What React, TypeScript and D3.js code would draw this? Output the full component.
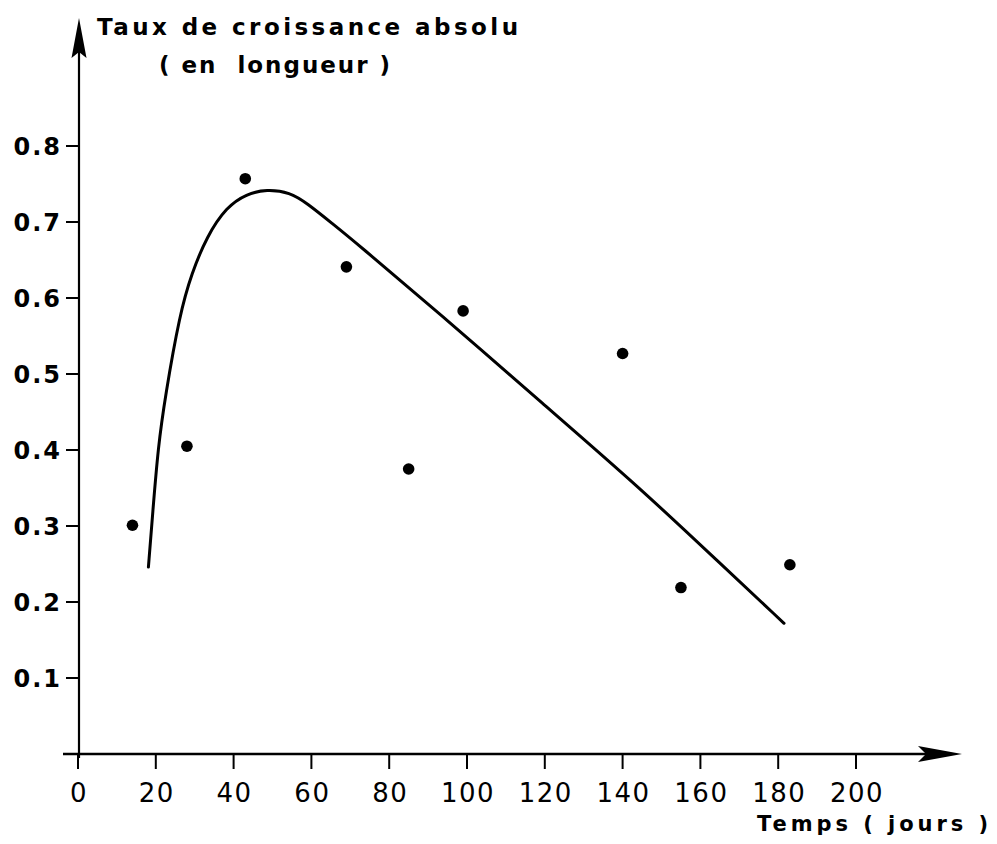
import React from "react";
import * as d3 from "d3";

// Observed points (days, absolute growth rate)
const pointDays = [14, 28, 43, 69, 85, 99, 140, 155, 183];
const pointRates = [0.301, 0.405, 0.757, 0.641, 0.375, 0.583, 0.527, 0.219, 0.249];

// Fitted curve
const curveDays = [18.1, 19.2, 20.6, 22.4, 26.2, 29.2, 33.1, 38.2, 43.3, 48.5, 54.5, 58.8, 65.6, 70.7, 95.6, 118.8, 144.5, 165, 181.5];
const curveRates = [0.246, 0.317, 0.404, 0.47, 0.58, 0.632, 0.681, 0.72, 0.737, 0.743, 0.739, 0.725, 0.697, 0.676, 0.568, 0.464, 0.35, 0.251, 0.172];

const xTicks = [0, 20, 40, 60, 80, 100, 120, 140, 160, 180, 200];
const yTicks = [0.1, 0.2, 0.3, 0.4, 0.5, 0.6, 0.7, 0.8];

const titleLine1 = "Taux de croissance absolu";
const titleLine2 = "( en  longueur )";
const xTitle = "Temps ( jours )";

export default function App() {
  const W = 997;
  const H = 844;
  const x = d3.scaleLinear().domain([0, 200]).range([78, 856]);
  const y = d3.scaleLinear().domain([0, 0.8]).range([754, 146]);
  const x0 = x(0);
  const y0 = y(0);

  const curveData = curveDays.map((d, i) => [d, curveRates[i]] as [number, number]);
  const line = d3
    .line<[number, number]>()
    .x((d) => x(d[0]))
    .y((d) => y(d[1]))
    .curve(d3.curveBasis);

  const font = "'DejaVu Sans', 'Liberation Sans', sans-serif";
  const fmt = d3.format(".1f");

  return (
    <svg
      width={W}
      height={H}
      style={{ position: "absolute", left: 0, top: 0, background: "#fff" }}
    >
      <rect x={0} y={0} width={W} height={H} fill="#fff" />
      {/* Y axis */}
      <line x1={x0 + 1} y1={y0 + 4} x2={x0 + 1} y2={50} stroke="#000" strokeWidth={2.2} />
      <path d={`M${x0 + 1},18 L${x0 + 8.5},58 L${x0 + 1},52 L${x0 - 6.5},58 Z`} fill="#000" />
      {/* X axis */}
      <line x1={63} y1={y0} x2={930} y2={y0} stroke="#000" strokeWidth={2.4} />
      <path d={`M962,${y0} L918,${y0 - 8} L926,${y0} L918,${y0 + 8} Z`} fill="#000" />

      {/* Y ticks */}
      {yTicks.map((t) => (
        <g key={`y${t}`}>
          <line x1={x0 - 12} x2={x0 + 1} y1={y(t)} y2={y(t)} stroke="#000" strokeWidth={2} />
          <text
            x={62}
            y={y(t) + 9}
            textAnchor="end"
            fontFamily={font}
            fontWeight="bold"
            fontSize={24}
            letterSpacing={2}
            fill="#000"
          >
            {fmt(t)}
          </text>
        </g>
      ))}

      {/* X ticks */}
      {xTicks.map((t) => (
        <g key={`x${t}`}>
          <line x1={x(t)} x2={x(t)} y1={y0} y2={y0 + 15} stroke="#000" strokeWidth={2} />
          <text
            x={x(t) + 1}
            y={802}
            textAnchor="middle"
            fontFamily={font}
            fontSize={26}
            letterSpacing={1.5}
            fill="#000"
          >
            {t}
          </text>
        </g>
      ))}

      {/* Curve */}
      <path d={line(curveData) || ""} fill="none" stroke="#000" strokeWidth={3} strokeLinecap="round" />

      {/* Points */}
      {pointDays.map((d, i) => (
        <circle key={`p${i}`} cx={x(d)} cy={y(pointRates[i])} r={5.8} fill="#000" />
      ))}

      {/* Titles */}
      <text
        x={97}
        y={35}
        fontFamily={font}
        fontWeight="bold"
        fontSize={23}
        textLength={421}
        lengthAdjust="spacing"
        fill="#000"
      >
        {titleLine1}
      </text>
      <text
        x={159}
        y={73}
        fontFamily={font}
        fontWeight="bold"
        fontSize={23}
        textLength={231}
        lengthAdjust="spacing"
        style={{ whiteSpace: "pre" }}
        fill="#000"
      >
        {titleLine2}
      </text>
      <text
        x={757}
        y={831}
        fontFamily={font}
        fontWeight="bold"
        fontSize={21}
        textLength={231}
        lengthAdjust="spacing"
        fill="#000"
      >
        {xTitle}
      </text>
    </svg>
  );
}
